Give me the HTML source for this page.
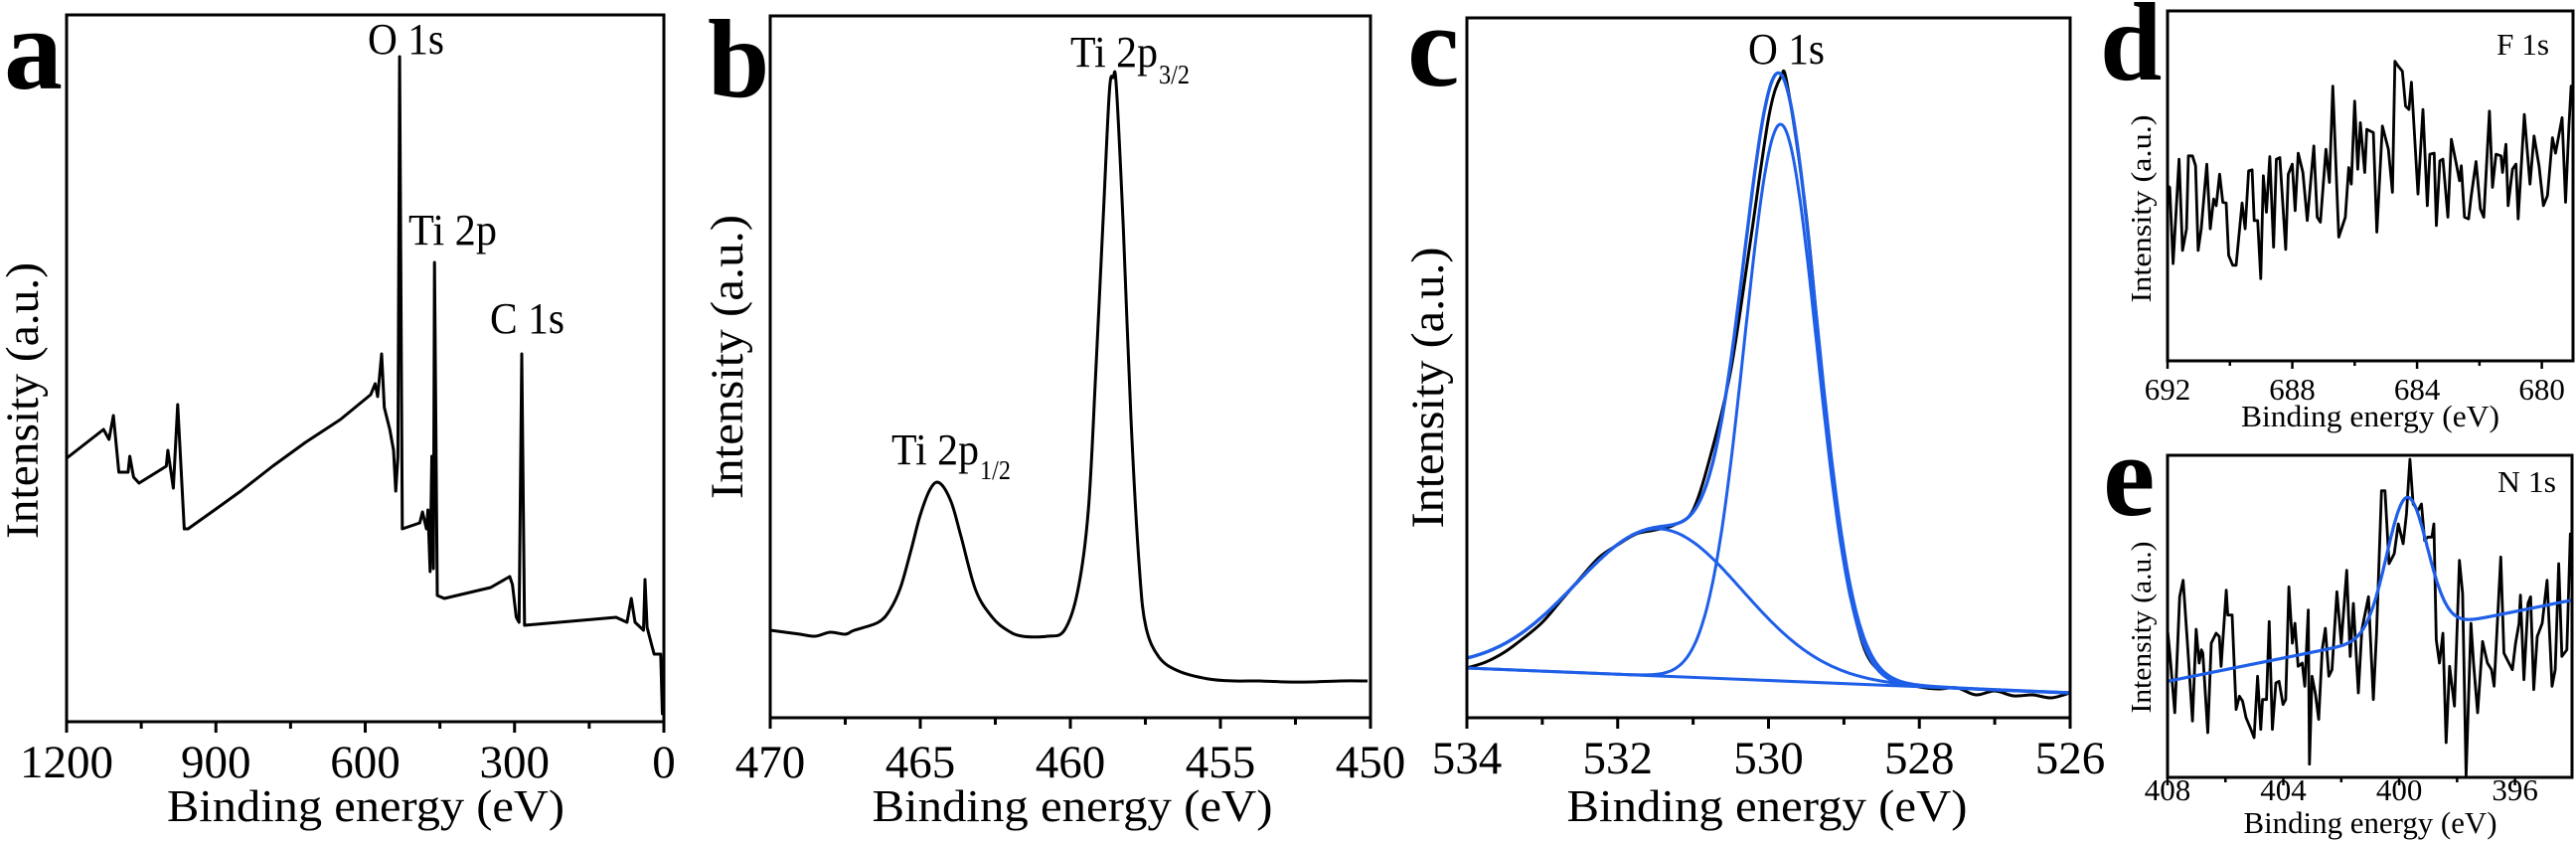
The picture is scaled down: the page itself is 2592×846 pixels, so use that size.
<!DOCTYPE html>
<html><head><meta charset="utf-8"><title>XPS spectra</title>
<style>
html,body{margin:0;padding:0;background:#fff;}
svg{display:block;font-family:"Liberation Serif",serif;}
text{fill:#000;}
</style></head>
<body>
<svg id="fig" width="2592" height="846" viewBox="0 0 2592 846" xmlns="http://www.w3.org/2000/svg">
<rect x="0" y="0" width="2592" height="846" fill="#fff"/>
<text x="4" y="89" font-size="118" font-weight="bold">a</text>
<text x="712" y="97" font-size="112" font-weight="bold">b</text>
<text x="1416" y="86" font-size="118" font-weight="bold">c</text>
<text x="2113" y="80" font-size="112" font-weight="bold">d</text>
<text x="2116" y="518" font-size="118" font-weight="bold">e</text>
<text x="368" y="826" font-size="46" text-anchor="middle" textLength="400" lengthAdjust="spacingAndGlyphs">Binding energy (eV)</text>
<text x="1079" y="826" font-size="46" text-anchor="middle" textLength="403" lengthAdjust="spacingAndGlyphs">Binding energy (eV)</text>
<text x="1778" y="826" font-size="46" text-anchor="middle" textLength="403" lengthAdjust="spacingAndGlyphs">Binding energy (eV)</text>
<text x="2385" y="429" font-size="31" text-anchor="middle" textLength="260" lengthAdjust="spacingAndGlyphs">Binding energy (eV)</text>
<text x="2385" y="838" font-size="31" text-anchor="middle" textLength="255" lengthAdjust="spacingAndGlyphs">Binding energy (eV)</text>
<text transform="translate(38,403) rotate(-90)" font-size="47" text-anchor="middle" textLength="278" lengthAdjust="spacingAndGlyphs">Intensity (a.u.)</text>
<text transform="translate(747,359) rotate(-90)" font-size="47" text-anchor="middle" textLength="286" lengthAdjust="spacingAndGlyphs">Intensity (a.u.)</text>
<text transform="translate(1452,390) rotate(-90)" font-size="47" text-anchor="middle" textLength="283" lengthAdjust="spacingAndGlyphs">Intensity (a.u.)</text>
<text transform="translate(2164,210) rotate(-90)" font-size="29" text-anchor="middle" textLength="189" lengthAdjust="spacingAndGlyphs">Intensity (a.u.)</text>
<text transform="translate(2164,631) rotate(-90)" font-size="29" text-anchor="middle" textLength="173" lengthAdjust="spacingAndGlyphs">Intensity (a.u.)</text>
<text x="370" y="54" font-size="44" textLength="77" lengthAdjust="spacingAndGlyphs">O 1s</text>
<text x="411" y="246" font-size="44" textLength="89" lengthAdjust="spacingAndGlyphs">Ti 2p</text>
<text x="493" y="335" font-size="44" textLength="75" lengthAdjust="spacingAndGlyphs">C 1s</text>
<text x="1077" y="67" font-size="44" textLength="88" lengthAdjust="spacingAndGlyphs">Ti 2p</text>
<text x="1166" y="84" font-size="27" textLength="31" lengthAdjust="spacingAndGlyphs">3/2</text>
<text x="897" y="467" font-size="44" textLength="88" lengthAdjust="spacingAndGlyphs">Ti 2p</text>
<text x="986" y="482" font-size="27" textLength="31" lengthAdjust="spacingAndGlyphs">1/2</text>
<text x="1759" y="64" font-size="44" textLength="77" lengthAdjust="spacingAndGlyphs">O 1s</text>
<text x="2512" y="55" font-size="31" textLength="53" lengthAdjust="spacingAndGlyphs">F 1s</text>
<text x="2513" y="495" font-size="31" textLength="59" lengthAdjust="spacingAndGlyphs">N 1s</text>
<g id="plots"></g>
</svg>
<script>
const aEnergy = [1200,1125.8,1114.7,1106,1095,1076.5,1073,1065.5,1054.5,999.8,996.5,985.6,976.8,963.6,956,900,850,786,720,650,589,580,575,567,561.7,550.7,543,538.7,534.3,531,525.5,490.4,485,477,474,469.6,466.3,463,460.8,455.3,441,348,309.7,304.3,296.6,291,285.5,280,96,74,65.5,58,41,38,33.7,25,19.5,6.3,3,0];
const aIntensity = [265,294,284,308,251,251,267,246,240,257,273,235,319,194,194,214,232,257,281,304,329,340,327,370,316,294,273,232,267,669,194,200,211,194,213,151,267,154,462,127,124,135,146,138,105,100,370,97,105,100,124,100,92,143,95,78,68,68,8,8];
const aTicks = [1200,900,600,300,0];
const aMinor = [1050,750,450,150];

const bEnergy = [470,469.5,469,468.5,468,467.5,467.2,466.4,466.0,465.66,465.33,465.0,464.65,464.35,463.97,463.64,463.15,462.6,462.1,461.6,460.76,460.2,459.75,459.4,459.16,458.9,458.7,458.57,458.47,458.24,457.98,457.7,457.48,457.05,456.4,455.4,454.5,453.7,452.8,452.0,451.0,450.1];
const bIntensity = [88,86,84,82,86,84,88,96,109,131,166,204,231,236,217,182,128,101,88,82,82,88,128,209,344,506,630,644,636,495,301,150,91,61,47,39,37,37,36,36,37,37];
const bTicks = [470,465,460,455,450];
const bMinor = [467.5,462.5,457.5,452.5];

const cEnergy = [534,533.75,533.5,533.25,533,532.75,532.5,532.25,532,531.75,531.5,531.25,531,530.75,530.5,530.25,530,529.84,529.75,529.5,529.25,529,528.75,528.5,528.25,528,527.75,527.5,527.25,527,526.75,526.5,526.25,526];
const cIntensity = [50,56,66,80,96,118,140,161,174,185,189,194,209,269,350,474,603,644,636,506,312,161,74,45,36,31,29,30,23,27,22,23,20,25];
const cBaseEnergy = [534,526];
const cBaseIntensity = [50,25];
const cPeakCenter = [529.84,531.45];
const cPeakHeight = [560,148];
const cPeakSigma = [0.48,1.1];
const cTicks = [534,532,530,528,526];
const cMinor = [533,531,529,527];

const dEnergy = [692.00,691.93,691.82,691.63,691.52,691.39,691.33,691.20,691.10,691.02,690.92,690.74,690.63,690.52,690.44,690.33,690.23,690.12,690.04,689.91,689.80,689.61,689.51,689.40,689.29,689.22,689.11,689.01,688.93,688.83,688.72,688.60,688.51,688.40,688.21,688.13,688.00,687.91,687.81,687.66,687.52,687.31,687.20,687.10,686.92,686.81,686.70,686.51,686.30,686.19,686.11,686.00,685.90,685.82,685.68,685.61,685.40,685.29,685.11,684.92,684.79,684.71,684.60,684.47,684.37,684.26,684.18,683.97,683.81,683.67,683.59,683.45,683.38,683.27,683.17,683.01,682.90,682.74,682.64,682.58,682.48,682.35,682.27,682.11,681.97,681.86,681.68,681.58,681.47,681.31,681.26,681.15,681.08,680.94,680.83,680.76,680.56,680.38,680.25,680.09,679.95,679.82,679.66,679.56,679.35,679.24,679.13,679.06,679.00];
const dIntensity = [528,523,293,608,333,398,618,618,588,333,398,593,398,488,468,563,478,476,318,288,288,476,398,573,576,423,423,248,558,448,616,343,608,613,336,563,593,453,626,568,423,648,433,418,638,538,828,373,433,583,533,783,578,718,568,698,688,388,708,638,508,903,888,873,768,758,840,503,758,468,623,626,408,603,608,433,668,593,543,588,433,428,493,601,458,433,753,523,623,618,568,653,468,578,593,428,743,533,678,588,468,498,673,626,733,478,708,828,798];
const dTicks = [692,688,684,680];
const dMinor = [690,686,682];

const eEnergy = [408.00,407.92,407.75,407.58,407.46,407.29,407.14,407.01,406.91,406.83,406.78,406.61,406.49,406.32,406.21,406.15,405.97,405.92,405.77,405.63,405.52,405.41,405.29,405.12,405.01,404.89,404.78,404.72,404.58,404.49,404.38,404.26,404.15,404.01,403.92,403.81,403.69,403.60,403.49,403.35,403.26,403.14,403.10,403.01,402.89,402.78,402.66,402.55,402.43,402.32,402.15,402.00,401.81,401.69,401.58,401.41,401.29,401.06,400.89,400.78,400.61,400.49,400.35,400.17,400.03,399.86,399.75,399.63,399.52,399.35,399.23,399.12,399.01,398.87,398.80,398.72,398.61,398.49,398.38,398.26,398.09,397.92,397.81,397.69,397.52,397.43,397.29,397.12,396.95,396.81,396.72,396.49,396.38,396.21,396.09,395.98,395.86,395.81,395.69,395.55,395.46,395.35,395.23,395.06,394.89,394.72,394.61,394.49,394.38,394.21,394.09,394.03];
const eIntensity = [445,375,195,545,595,375,170,447,345,385,375,135,405,435,425,335,565,490,490,205,245,230,180,145,120,305,145,235,235,470,145,285,290,220,235,575,405,465,335,345,275,505,40,305,250,175,385,450,305,325,560,405,625,365,525,255,445,545,235,435,865,865,645,675,765,705,795,960,825,805,825,715,725,725,765,415,345,435,105,335,215,655,555,5,465,345,195,410,345,325,275,665,375,345,325,405,465,550,295,525,545,265,425,465,595,275,325,645,365,385,735,665];
const eBaseEnergy = [408,394.03];
const eBaseIntensity = [290,535];
const ePeakCenter = [399.73];
const ePeakHeight = [410];
const ePeakSigma = [0.70];
const eTicks = [408,404,400,396];
const eMinor = [406,402,398];

const NS = 'http://www.w3.org/2000/svg';
const plots = document.getElementById('plots');
const BLUE = '#1f5fe8';

function makePanel(p) {
  p.sx = function (e) { return p.x0 + (p.e0 - e) / (p.e0 - p.e1) * (p.x1 - p.x0); };
  p.sy = function (v) { return p.bottom - v / p.vmax * (p.bottom - p.top); };
  return p;
}
function linePath(p, es, vs) {
  let d = '';
  for (let i = 0; i < es.length; i++) d += (i ? 'L' : 'M') + p.sx(es[i]).toFixed(1) + ',' + p.sy(vs[i]).toFixed(1);
  return d;
}
function smoothPath(p, es, vs) {
  const pts = es.map((e, i) => [p.sx(e), p.sy(vs[i])]);
  let d = 'M' + pts[0][0].toFixed(1) + ',' + pts[0][1].toFixed(1);
  for (let i = 0; i < pts.length - 1; i++) {
    const p0 = pts[Math.max(0, i - 1)], p1 = pts[i], p2 = pts[i + 1], p3 = pts[Math.min(pts.length - 1, i + 2)];
    const c1x = p1[0] + (p2[0] - p0[0]) / 6, c1y = p1[1] + (p2[1] - p0[1]) / 6;
    const c2x = p2[0] - (p3[0] - p1[0]) / 6, c2y = p2[1] - (p3[1] - p1[1]) / 6;
    d += 'C' + c1x.toFixed(1) + ',' + c1y.toFixed(1) + ' ' + c2x.toFixed(1) + ',' + c2y.toFixed(1) + ' ' + p2[0].toFixed(1) + ',' + p2[1].toFixed(1);
  }
  return d;
}
function baseAt(bE, bV, e) { return bV[0] + (e - bE[0]) / (bE[1] - bE[0]) * (bV[1] - bV[0]); }
function gauss(e, c, h, s) { return h * Math.exp(-((e - c) * (e - c)) / (2 * s * s)); }

function drawAxes(p, name, ticks, minor, fontSize, labelY, sw) {
  const clip = document.createElementNS(NS, 'clipPath');
  clip.setAttribute('id', 'clip-' + name);
  const cr = document.createElementNS(NS, 'rect');
  cr.setAttribute('x', p.x0); cr.setAttribute('y', p.top);
  cr.setAttribute('width', p.x1 - p.x0); cr.setAttribute('height', p.bottom - p.top);
  clip.appendChild(cr);
  plots.appendChild(clip);
  ticks.forEach(function (t) {
    const x = p.sx(t);
    const tk = document.createElementNS(NS, 'line');
    tk.setAttribute('x1', x); tk.setAttribute('x2', x);
    tk.setAttribute('y1', p.bottom); tk.setAttribute('y2', p.bottom + (fontSize > 40 ? 11 : 8));
    tk.setAttribute('stroke', '#000'); tk.setAttribute('stroke-width', sw);
    
    
    plots.appendChild(tk);
    const lb = document.createElementNS(NS, 'text');
    lb.setAttribute('x', x); lb.setAttribute('y', labelY);
    lb.setAttribute('font-size', fontSize); lb.setAttribute('text-anchor', 'middle');
    lb.textContent = String(t);
    
    
    plots.appendChild(lb);
  });
  minor.forEach(function (t) {
    const x = p.sx(t);
    const mk = document.createElementNS(NS, 'line');
    mk.setAttribute('x1', x); mk.setAttribute('x2', x);
    mk.setAttribute('y1', p.bottom); mk.setAttribute('y2', p.bottom + (fontSize > 40 ? 7 : 5));
    mk.setAttribute('stroke', '#000'); mk.setAttribute('stroke-width', sw);
    
    
    plots.appendChild(mk);
  });
}
function drawFrame(p, name, sw) {
  const fr = document.createElementNS(NS, 'rect');
  fr.setAttribute('x', p.x0); fr.setAttribute('y', p.top);
  fr.setAttribute('width', p.x1 - p.x0); fr.setAttribute('height', p.bottom - p.top);
  fr.setAttribute('fill', 'none'); fr.setAttribute('stroke', '#000'); fr.setAttribute('stroke-width', sw);
  
  
  plots.appendChild(fr);
}
function addPath(d, color, w, name, clipName) {
  const pa = document.createElementNS(NS, 'path');
  pa.setAttribute('d', d);
  pa.setAttribute('fill', 'none'); pa.setAttribute('stroke', color);
  pa.setAttribute('stroke-width', w); pa.setAttribute('stroke-linejoin', 'round');
  pa.setAttribute('clip-path', 'url(#clip-' + clipName + ')');
  
  
  plots.appendChild(pa);
}
function fitCurve(p, e0, e1, fn) {
  const es = [], vs = [];
  for (let e = e0; e >= e1 - 1e-9; e -= 0.02) { es.push(e); vs.push(fn(e)); }
  return linePath(p, es, vs);
}

const pa = makePanel({x0: 67, x1: 668, e0: 1200, e1: 0, top: 15, bottom: 726, vmax: 711});
drawAxes(pa, 'a', aTicks, aMinor, 47, 782, 3);
addPath(linePath(pa, aEnergy, aIntensity), '#000', 3, 'survey-spectrum-line', 'a');
drawFrame(pa, 'a', 3);

const pb = makePanel({x0: 775, x1: 1379, e0: 470, e1: 450, top: 16, bottom: 722, vmax: 706});
drawAxes(pb, 'b', bTicks, bMinor, 47, 782, 3);
addPath(smoothPath(pb, bEnergy, bIntensity), '#000', 3, 'ti2p-spectrum-line', 'b');
drawFrame(pb, 'b', 3);

const pc = makePanel({x0: 1476, x1: 2083, e0: 534, e1: 526, top: 18, bottom: 722, vmax: 704});
drawAxes(pc, 'c', cTicks, cMinor, 47, 778, 3);
addPath(smoothPath(pc, cEnergy, cIntensity), '#000', 3, 'o1s-raw-data-line', 'c');
addPath(linePath(pc, cBaseEnergy, cBaseIntensity), BLUE, 3, 'o1s-background-line', 'c');
addPath(fitCurve(pc, 534, 526, function (e) { return baseAt(cBaseEnergy, cBaseIntensity, e) + gauss(e, cPeakCenter[1], cPeakHeight[1], cPeakSigma[1]); }), BLUE, 3, 'o1s-fit-peak-2', 'c');
addPath(fitCurve(pc, 534, 526, function (e) { return baseAt(cBaseEnergy, cBaseIntensity, e) + gauss(e, cPeakCenter[0], cPeakHeight[0], cPeakSigma[0]); }), BLUE, 3, 'o1s-fit-peak-1', 'c');
addPath(fitCurve(pc, 534, 526, function (e) { let v = baseAt(cBaseEnergy, cBaseIntensity, e); for (let i = 0; i < cPeakCenter.length; i++) v += gauss(e, cPeakCenter[i], cPeakHeight[i], cPeakSigma[i]); return v; }), BLUE, 3.4, 'o1s-fit-envelope', 'c');
drawFrame(pc, 'c', 3);

const pd = makePanel({x0: 2181, x1: 2589, e0: 692, e1: 679, top: 11, bottom: 363, vmax: 1055});
drawAxes(pd, 'd', dTicks, dMinor, 31, 402, 2.5);
addPath(linePath(pd, dEnergy, dIntensity), '#000', 2.8, 'f1s-spectrum-line', 'd');
drawFrame(pd, 'd', 3);

const pe = makePanel({x0: 2181, x1: 2588, e0: 408, e1: 394.03, top: 458, bottom: 782, vmax: 972});
drawAxes(pe, 'e', eTicks, eMinor, 31, 805, 2.5);
addPath(linePath(pe, eEnergy, eIntensity), '#000', 2.8, 'n1s-spectrum-line', 'e');
addPath(fitCurve(pe, 408, 394.03, function (e) { let v = baseAt(eBaseEnergy, eBaseIntensity, e); for (let i = 0; i < ePeakCenter.length; i++) v += gauss(e, ePeakCenter[i], ePeakHeight[i], ePeakSigma[i]); return v; }), BLUE, 3.2, 'n1s-fit-line', 'e');
drawFrame(pe, 'e', 3);
</script>
</body></html>
